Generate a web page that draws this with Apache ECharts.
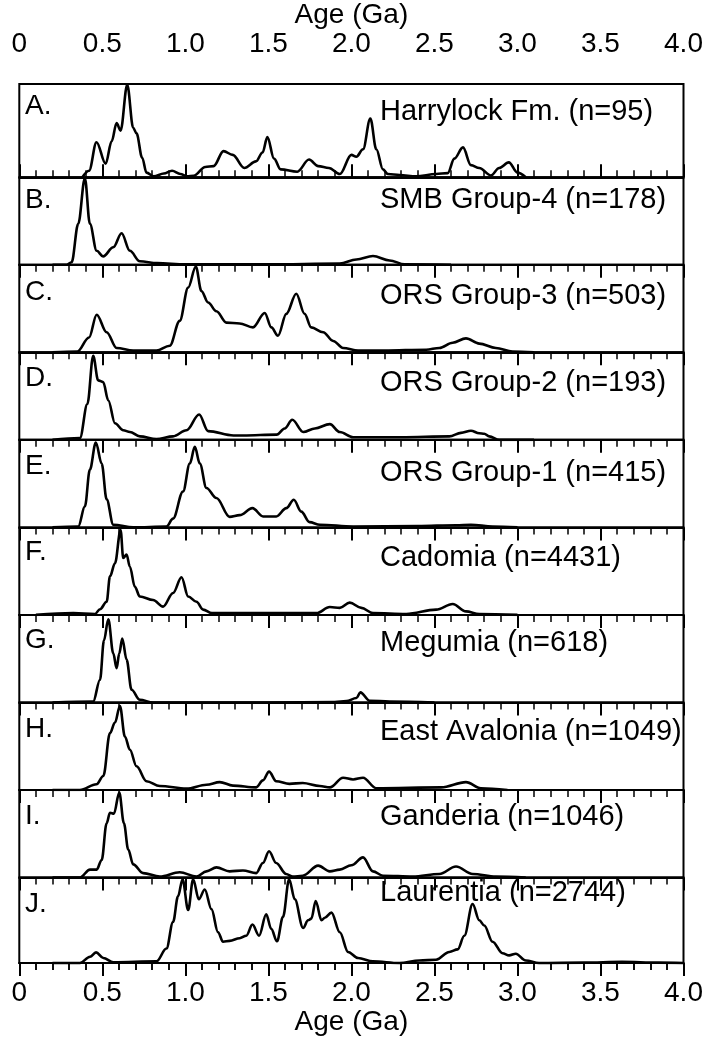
<!DOCTYPE html>
<html>
<head>
<meta charset="utf-8">
<script src="https://cdn.jsdelivr.net/npm/echarts@6/dist/echarts.min.js"></script>
<style>
  html, body { margin: 0; padding: 0; background: #fff; }
  #chart { width: 708px; height: 1037px; }
</style>
</head>
<body>
<div id="chart"></div>
<script>
// Detrital zircon age spectra, normalised density vs. age (Ga)
const panelLetters = ['A.', 'B.', 'C.', 'D.', 'E.', 'F.', 'G.', 'H.', 'I.', 'J.'];
const panelNames = [
  'Harrylock Fm. (n=95)', 'SMB Group-4 (n=178)', 'ORS Group-3 (n=503)',
  'ORS Group-2 (n=193)', 'ORS Group-1 (n=415)', 'Cadomia (n=4431)',
  'Megumia (n=618)', 'East Avalonia (n=1049)', 'Ganderia (n=1046)',
  'Laurentia (n=2744)'
];
const ageTicks = [0, 0.5, 1.0, 1.5, 2.0, 2.5, 3.0, 3.5, 4.0];

// [age (Ga), relative density]
const harrylock = [[0.38,0],[0.42,0.07],[0.465,0.376],[0.52,0.145],[0.556,0.385],[0.586,0.58],[0.61,0.50],[0.65,0.99],[0.686,0.53],[0.706,0.47],[0.74,0.21],[0.766,0.05],[0.81,0.01],[0.87,0.04],[0.92,0.07],[0.97,0.035],[1.01,0.01],[1.05,0.017],[1.12,0.11],[1.17,0.12],[1.23,0.28],[1.285,0.24],[1.355,0.10],[1.425,0.17],[1.465,0.265],[1.494,0.43],[1.534,0.20],[1.574,0.085],[1.674,0.06],[1.745,0.19],[1.80,0.12],[1.865,0.10],[1.93,0.035],[2.0,0.24],[2.03,0.22],[2.07,0.30],[2.114,0.63],[2.15,0.30],[2.19,0.085],[2.22,0.035],[2.29,0.025],[2.39,0.01],[2.51,0.035],[2.58,0.045],[2.62,0.20],[2.672,0.32],[2.72,0.13],[2.77,0.10],[2.84,0.02],[2.89,0.10],[2.948,0.16],[3.0,0.05],[3.05,0.0]];
const smbGroup4 = [[0.2,0],[0.285,0.0],[0.315,0.03],[0.355,0.47],[0.395,0.99],[0.425,0.47],[0.466,0.16],[0.505,0.096],[0.566,0.2],[0.616,0.36],[0.666,0.16],[0.726,0.04],[0.83,0.02],[1.0,0.005],[1.5,0.005],[1.93,0.015],[2.03,0.06],[2.13,0.10],[2.23,0.05],[2.32,0.005],[2.6,0]];
const orsGroup3 = [[0.2,0],[0.35,0.01],[0.42,0.17],[0.466,0.43],[0.526,0.23],[0.586,0.05],[0.686,0.02],[0.826,0.02],[0.906,0.076],[0.966,0.36],[1.017,0.74],[1.063,0.98],[1.097,0.70],[1.137,0.57],[1.187,0.47],[1.247,0.34],[1.327,0.33],[1.407,0.285],[1.478,0.45],[1.518,0.285],[1.558,0.19],[1.608,0.44],[1.668,0.67],[1.718,0.44],[1.758,0.285],[1.83,0.23],[1.89,0.13],[1.95,0.05],[2.04,0.02],[2.2,0.02],[2.45,0.03],[2.53,0.05],[2.61,0.11],[2.69,0.16],[2.77,0.10],[2.87,0.05],[2.97,0.01],[3.1,0]];
const orsGroup2 = [[0.2,0],[0.365,0.02],[0.41,0.41],[0.445,0.96],[0.475,0.68],[0.505,0.66],[0.536,0.45],[0.576,0.19],[0.626,0.11],[0.666,0.09],[0.726,0.04],[0.826,0.01],[0.926,0.04],[1.007,0.11],[1.083,0.29],[1.137,0.10],[1.29,0.05],[1.35,0.05],[1.55,0.06],[1.598,0.13],[1.644,0.23],[1.71,0.09],[1.78,0.13],[1.87,0.18],[1.93,0.09],[2.01,0.03],[2.3,0.03],[2.59,0.04],[2.66,0.08],[2.72,0.105],[2.77,0.075],[2.80,0.07],[2.83,0.04],[2.89,0],[3.1,0]];
const orsGroup1 = [[0.2,0],[0.355,0.01],[0.395,0.24],[0.425,0.66],[0.461,0.97],[0.496,0.73],[0.526,0.32],[0.566,0.03],[0.686,0.0],[0.886,0.01],[0.926,0.1],[0.986,0.41],[1.027,0.73],[1.057,0.92],[1.087,0.73],[1.127,0.45],[1.187,0.335],[1.267,0.12],[1.327,0.14],[1.404,0.22],[1.468,0.125],[1.548,0.125],[1.608,0.22],[1.653,0.315],[1.698,0.18],[1.748,0.06],[1.81,0.03],[2.01,0.01],[2.4,0.015],[2.63,0.025],[2.72,0.03],[2.85,0.01],[3.0,0]];
const cadomia = [[0.1,0],[0.325,0.02],[0.455,0.01],[0.486,0.065],[0.526,0.15],[0.546,0.44],[0.576,0.59],[0.61,0.97],[0.626,0.65],[0.646,0.69],[0.666,0.55],[0.696,0.32],[0.726,0.21],[0.806,0.17],[0.866,0.095],[0.926,0.25],[0.977,0.43],[1.017,0.21],[1.067,0.15],[1.107,0.06],[1.16,0.02],[1.79,0.02],[1.87,0.09],[1.93,0.08],[1.99,0.14],[2.06,0.08],[2.13,0.02],[2.33,0.01],[2.51,0.06],[2.61,0.125],[2.69,0.04],[2.77,0.01],[3.0,0]];
const megumia = [[0.2,0],[0.445,0.01],[0.486,0.26],[0.51,0.71],[0.536,0.95],[0.566,0.56],[0.586,0.39],[0.602,0.56],[0.62,0.73],[0.646,0.49],[0.676,0.145],[0.726,0.03],[0.806,0.0],[1.5,0.0],[1.9,0.005],[1.97,0.015],[2.03,0.05],[2.054,0.115],[2.11,0.02],[2.23,0.01],[2.5,0]];
const eastAvalonia = [[0.2,0],[0.365,0.0],[0.465,0.065],[0.506,0.16],[0.546,0.65],[0.576,0.77],[0.606,0.96],[0.636,0.61],[0.666,0.46],[0.706,0.27],[0.766,0.10],[0.846,0.045],[1.007,0.015],[1.127,0.06],[1.207,0.09],[1.287,0.05],[1.427,0.03],[1.467,0.11],[1.504,0.21],[1.547,0.10],[1.627,0.07],[1.707,0.08],[1.81,0.045],[1.87,0.03],[1.95,0.14],[2.01,0.12],[2.07,0.14],[2.15,0.02],[2.54,0.03],[2.69,0.09],[2.78,0.02],[2.94,0.0]];
const ganderia = [[0.2,0],[0.365,0.0],[0.426,0.09],[0.466,0.09],[0.496,0.20],[0.526,0.62],[0.546,0.74],[0.57,0.73],[0.602,0.97],[0.63,0.62],[0.656,0.32],[0.686,0.15],[0.746,0.05],[0.846,0.01],[0.966,0.06],[1.067,0.01],[1.127,0.07],[1.187,0.115],[1.267,0.07],[1.347,0.08],[1.427,0.05],[1.467,0.165],[1.504,0.30],[1.547,0.165],[1.607,0.04],[1.647,0.01],[1.707,0.02],[1.80,0.135],[1.87,0.07],[1.93,0.09],[2.0,0.14],[2.07,0.23],[2.13,0.07],[2.19,0.02],[2.37,0.01],[2.53,0.04],[2.63,0.125],[2.73,0.04],[2.87,0.01],[3.05,0]];
const laurentia = [[0.2,0],[0.365,0.0],[0.426,0.075],[0.462,0.125],[0.506,0.06],[0.566,0.01],[0.826,0.02],[0.886,0.17],[0.926,0.48],[0.956,0.78],[0.983,0.98],[1.017,0.62],[1.047,0.98],[1.081,0.745],[1.117,0.86],[1.157,0.63],[1.197,0.36],[1.227,0.25],[1.267,0.26],[1.327,0.29],[1.367,0.32],[1.404,0.45],[1.444,0.32],[1.487,0.57],[1.517,0.40],[1.552,0.255],[1.588,0.54],[1.625,0.98],[1.659,0.745],[1.709,0.41],[1.739,0.5],[1.759,0.52],[1.785,0.725],[1.82,0.5],[1.84,0.53],[1.88,0.59],[1.93,0.36],[1.98,0.13],[2.04,0.06],[2.13,0.02],[2.29,0.0],[2.41,0.03],[2.51,0.04],[2.59,0.13],[2.64,0.16],[2.68,0.32],[2.73,0.69],[2.77,0.5],[2.80,0.44],[2.85,0.25],[2.91,0.115],[2.95,0.09],[2.99,0.11],[3.05,0.03],[3.13,0.0],[3.4,0.005],[3.63,0.015],[3.85,0.005],[4.0,0]];

const spectra = [harrylock, smbGroup4, orsGroup3, orsGroup2, orsGroup1,
                 cadomia, megumia, eastAvalonia, ganderia, laurentia];

// Layout of the stacked panels (pixels)
const FONT = "'Liberation Sans', Arial, sans-serif";
const LEFT = 19.3, RIGHT = 24.5;
const FIRST_TOP = 76, FIRST_BOTTOM = 177.3, LAST_BOTTOM = 965;
const N = spectra.length;
const PANEL_H = (LAST_BOTTOM - FIRST_BOTTOM) / (N - 1);
// vertical offsets of the panel letter and panel title below each panel top
const letterDy = [30, 23, 27, 26, 26, 25, 25, 26.5, 26.5, 27];
const titleDy  = [35.5, 23, 31, 31, 33, 31, 28, 30, 27.5, 16];

const tickFmt = v => (v === 0 ? '0' : v.toFixed(1));
const isTick = v => ageTicks.some(t => Math.abs(t - v) < 1e-6);

const grids = [], xAxes = [], yAxes = [], series = [], graphics = [];

for (let i = 0; i < N; i++) {
  const top = i === 0 ? FIRST_TOP : FIRST_BOTTOM + (i - 1) * PANEL_H;
  const height = i === 0 ? FIRST_BOTTOM - FIRST_TOP : PANEL_H;
  grids.push({
    left: LEFT, right: RIGHT, top: top, height: height,
    show: true, borderColor: '#000', borderWidth: 2, backgroundColor: 'transparent'
  });
  const first = i === 0;
  xAxes.push({
    type: 'value', gridIndex: i, position: 'top',
    min: 0, max: 4, interval: 0.5,
    axisLine: { show: true, lineStyle: { color: '#000', width: 2 } },
    axisTick: { show: true, inside: !first, length: 13, lineStyle: { color: '#000', width: 2 } },
    minorTick: { show: true, splitNumber: 5, length: 7, lineStyle: { color: '#000', width: 1.5 } },
    splitLine: { show: false },
    minorSplitLine: { show: false },
    axisLabel: first ? {
      show: true, fontSize: 28, color: '#000', fontFamily: FONT,
      margin: 40, verticalAlign: 'middle',
      formatter: v => (isTick(v) ? tickFmt(v) : '')
    } : { show: false },
    name: first ? 'Age (Ga)' : '',
    nameLocation: 'middle', nameGap: 63,
    nameTextStyle: { fontSize: 28, color: '#000', fontFamily: FONT, verticalAlign: 'middle' }
  });
  yAxes.push({ type: 'value', gridIndex: i, min: 0, max: 1, show: false });
  series.push({
    type: 'line', xAxisIndex: i, yAxisIndex: i,
    data: spectra[i], smooth: 0.35, smoothMonotone: 'x',
    showSymbol: false, symbol: 'none', silent: true,
    lineStyle: { color: '#000', width: 2.6 }
  });
  graphics.push({
    type: 'text', x: 25, y: top + letterDy[i], silent: true,
    style: { text: panelLetters[i], fontSize: 28, fontFamily: FONT, fill: '#000',
             align: 'left', verticalAlign: 'middle' }
  });
  graphics.push({
    type: 'text', x: 380, y: top + titleDy[i], silent: true,
    style: { text: panelNames[i], fontSize: 29, fontFamily: FONT, fill: '#000',
             align: 'left', verticalAlign: 'middle' }
  });
}

// Bottom age axis under the last panel
xAxes.push({
  type: 'value', gridIndex: N - 1, position: 'bottom',
  min: 0, max: 4, interval: 0.5,
  axisLine: { show: true, lineStyle: { color: '#000', width: 2 } },
  axisTick: { show: true, inside: false, length: 13, lineStyle: { color: '#000', width: 2 } },
  minorTick: { show: true, splitNumber: 5, length: 7, lineStyle: { color: '#000', width: 1.5 } },
  splitLine: { show: false },
  axisLabel: {
    show: true, fontSize: 28, color: '#000', fontFamily: FONT,
    margin: 30, verticalAlign: 'middle',
    formatter: v => (isTick(v) ? tickFmt(v) : '')
  },
  name: 'Age (Ga)', nameLocation: 'middle', nameGap: 55,
  nameTextStyle: { fontSize: 28, color: '#000', fontFamily: FONT, verticalAlign: 'middle' }
});

const chart = echarts.init(document.getElementById('chart'), null, { renderer: 'canvas' });
chart.setOption({
  animation: false,
  backgroundColor: '#fff',
  grid: grids,
  xAxis: xAxes,
  yAxis: yAxes,
  series: series,
  graphic: graphics
});
</script>
</body>
</html>
